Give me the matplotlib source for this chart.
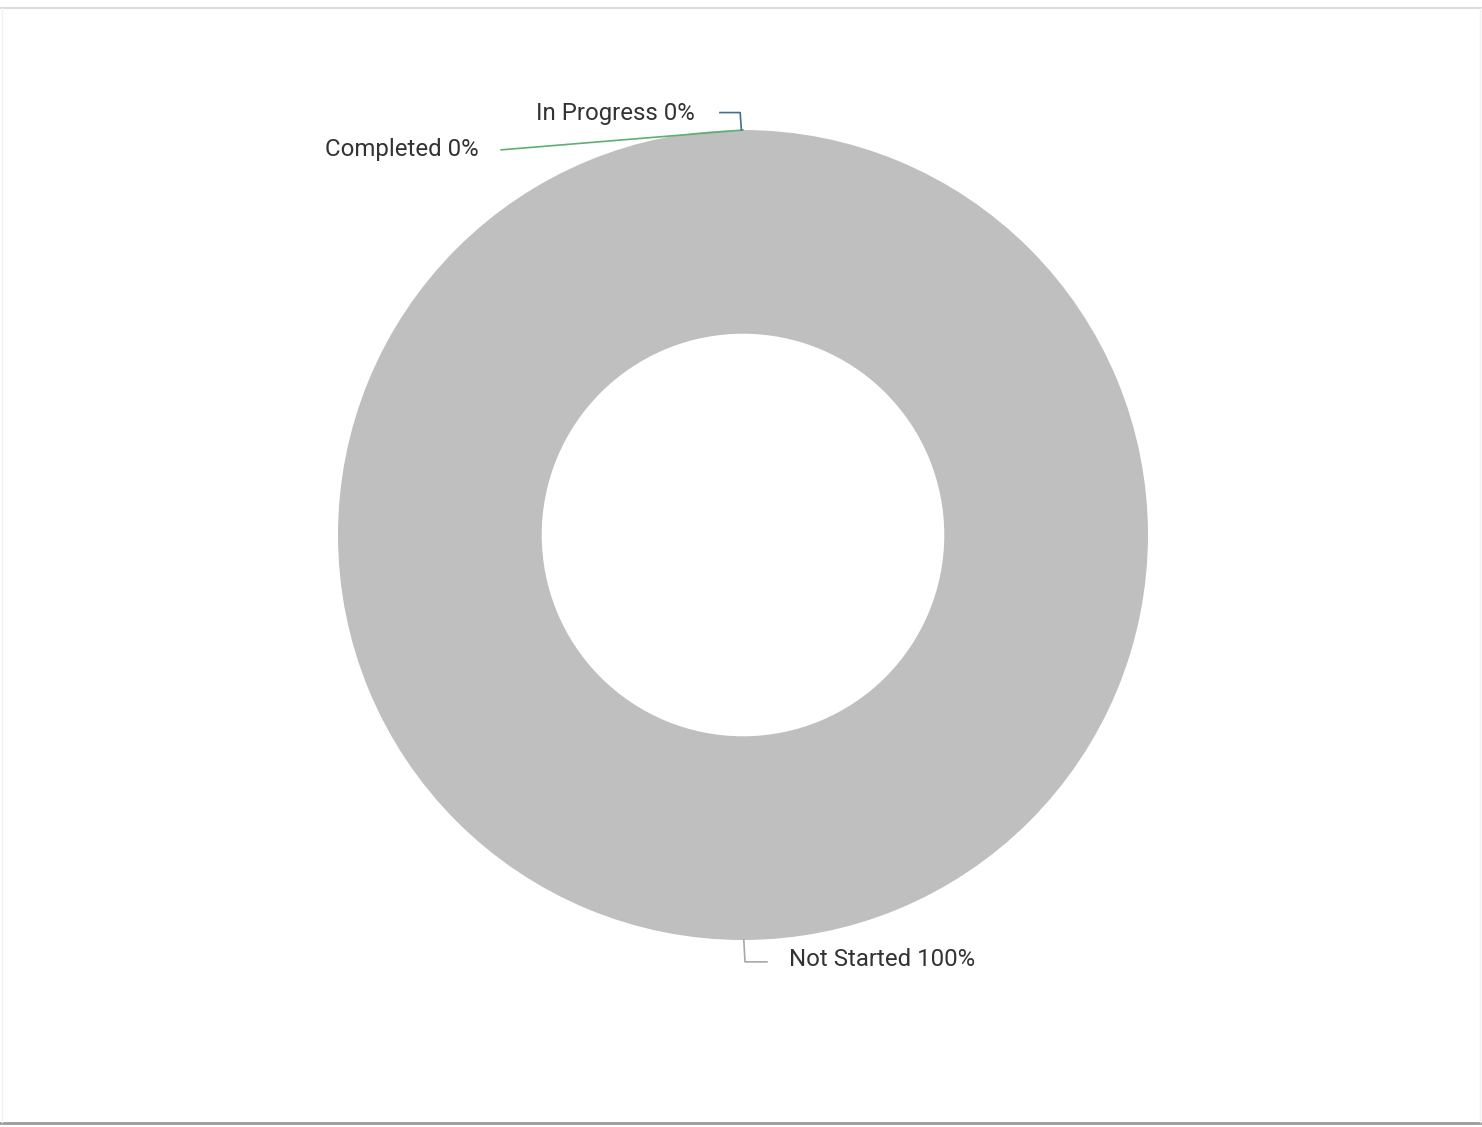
import matplotlib
matplotlib.use("Agg")
import matplotlib.pyplot as plt
from matplotlib.lines import Line2D

categories = ["Completed", "In Progress", "Not Started"]
values = [0, 0, 100]
colors = ["#5fae73", "#3f6f94", "#bfbfbf"]

plt.rcParams['font.family'] = ['Roboto', 'DejaVu Sans']

W, H = 1482, 1127
fig = plt.figure(figsize=(W / 100, H / 100), dpi=100)
fig.patch.set_facecolor("white")

# frame lines
fig.add_artist(Line2D([0, 1], [1 - 7.5 / H, 1 - 7.5 / H], color="#dcdcdc", lw=1.5, transform=fig.transFigure))
fig.add_artist(Line2D([0, 1], [1 - 1122.5 / H, 1 - 1122.5 / H], color="#9a9a9a", lw=2, transform=fig.transFigure))
fig.add_artist(Line2D([1.5 / W, 1.5 / W], [1 - 1122 / H, 1 - 8 / H], color="#f2f2f2", lw=1, transform=fig.transFigure))
fig.add_artist(Line2D([1 - 2 / W, 1 - 2 / W], [1 - 1122 / H, 1 - 8 / H], color="#f2f2f2", lw=1, transform=fig.transFigure))

cx, cy, R = 743, 535, 405
ax = fig.add_axes([(cx - R) / W, (H - cy - R) / H, 2 * R / W, 2 * R / H])
ax.pie(values, colors=colors, startangle=90, counterclock=False,
       wedgeprops=dict(width=0.503, edgecolor="none"), radius=1.0)
ax.set_xlim(-1, 1)
ax.set_ylim(-1, 1)
ax.set_aspect("equal")
ax.axis("off")

total = sum(values)
labels = [f"{c} {round(v / total * 100)}%" for c, v in zip(categories, values)]
fs = 17.3

# Completed
ax.plot([-0.597, 0.0], [0.951, 1.0], color=colors[0], lw=1.2, clip_on=False)
ax.text(-0.652, 0.952, labels[0], ha="right", va="center", fontsize=fs, color="#333333")
# In Progress
ax.plot([-0.057, -0.007, -0.004], [1.043, 1.043, 1.0], color=colors[1], lw=1.2, clip_on=False)
ax.text(-0.118, 1.040, labels[1], ha="right", va="center", fontsize=fs, color="#333333")
# Not Started
ax.plot([0.002, 0.005, 0.059], [-1.0, -1.054, -1.054], color="#a8a8a8", lw=1.2, clip_on=False)
ax.text(0.113, -1.048, labels[2], ha="left", va="center", fontsize=fs, color="#333333")

fig.savefig("out.png", dpi=100)
